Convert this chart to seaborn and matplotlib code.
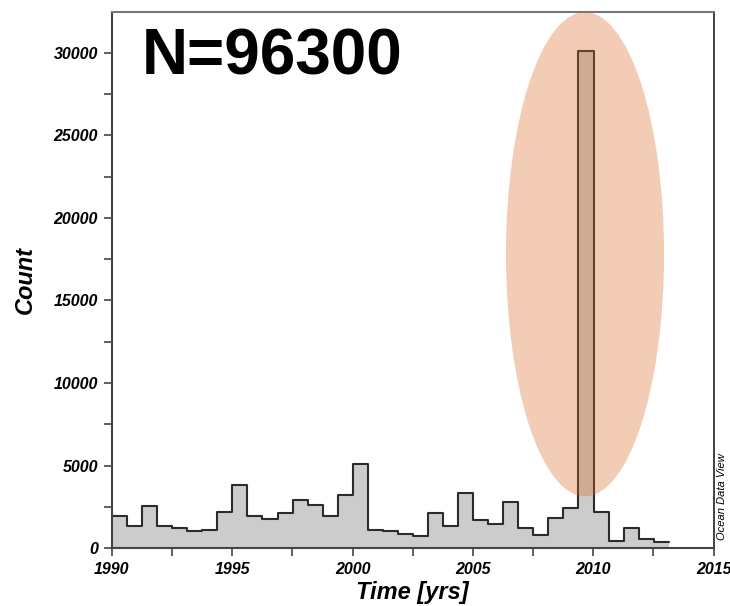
import numpy as np
import pandas as pd
import matplotlib
matplotlib.use("Agg")
import matplotlib.pyplot as plt
from matplotlib.patches import Ellipse
from matplotlib.ticker import MultipleLocator
import seaborn as sns

# histogram counts per bin, 37 bins from 1990 to ~2013.14
counts = [1940, 1350, 2580, 1350, 1250, 1070, 1080, 2180, 3840, 1980,
          1780, 2160, 2950, 2640, 1940, 3250, 5130, 1130, 1070, 885,
          760, 2160, 1350, 3370, 1710, 1470, 2790, 1210, 825, 1850,
          2460, 30100, 2215, 440, 1210, 545, 380]
t_start = 1990.0
t_end = 2013.14
n_total = 96300

edges = np.linspace(t_start, t_end, len(counts) + 1)
centers = (edges[:-1] + edges[1:]) / 2
df = pd.DataFrame({"year": centers, "count": counts})

sns.set_style("white")
plt.rcParams['font.family'] = ['Liberation Sans', 'DejaVu Sans']
plt.rcParams.update({"text.color": "black", "axes.labelcolor": "black",
                     "xtick.color": "black", "ytick.color": "black"})

fig = plt.figure(figsize=(7.3, 6.06), dpi=100)
ax = fig.add_axes([0.1534, 0.0952, 0.824, 0.8855])

hist_kw = dict(data=df, x="year", weights="count", bins=len(counts),
               binrange=(t_start, t_end), element="step", ax=ax)
sns.histplot(fill=True, color="#cccccc", alpha=1, linewidth=0, **hist_kw)
sns.histplot(fill=False, color="#2b2b2b", linewidth=1.5, **hist_kw)

# highlight around the 2009-2010 peak
ax.add_patch(Ellipse((2009.66, 17800), 6.57, 29300, facecolor="#da6d29",
                     edgecolor="none", alpha=0.35, zorder=5))

ax.set_xlim(1990, 2015)
ax.set_ylim(0, 32480)
ax.xaxis.set_major_locator(MultipleLocator(5))
ax.xaxis.set_minor_locator(MultipleLocator(2.5))
ax.yaxis.set_major_locator(MultipleLocator(5000))
ax.yaxis.set_minor_locator(MultipleLocator(2500))
ax.tick_params(which="both", direction="out", length=6, width=1.2,
               color="#444444", labelcolor="black", bottom=True, left=True,
               pad=4)
for lab in ax.get_xticklabels() + ax.get_yticklabels():
    lab.set_fontweight("bold")
    lab.set_fontstyle("italic")
    lab.set_fontsize(11.5)

for side in ["left", "bottom"]:
    ax.spines[side].set_color("#444444")
    ax.spines[side].set_linewidth(1.5)
ax.spines["top"].set_color("#777777")
ax.spines["top"].set_linewidth(1.5)
ax.spines["right"].set_color("#222222")
ax.spines["right"].set_linewidth(1.2)

ax.set_xlabel("Time [yrs]", fontsize=17, fontweight="bold", fontstyle="italic",
              labelpad=3)
ax.set_ylabel("Count", fontsize=17, fontweight="bold", fontstyle="italic",
              labelpad=12)

ax.text(0.05, 0.915, f"N={n_total}", transform=ax.transAxes, fontsize=46,
        fontweight="bold", va="center", ha="left")
fig.text(0.989, 0.18, "Ocean Data View", rotation=90, fontsize=8,
         fontstyle="italic", ha="center", va="center")

fig.savefig("out.png", dpi=100)
